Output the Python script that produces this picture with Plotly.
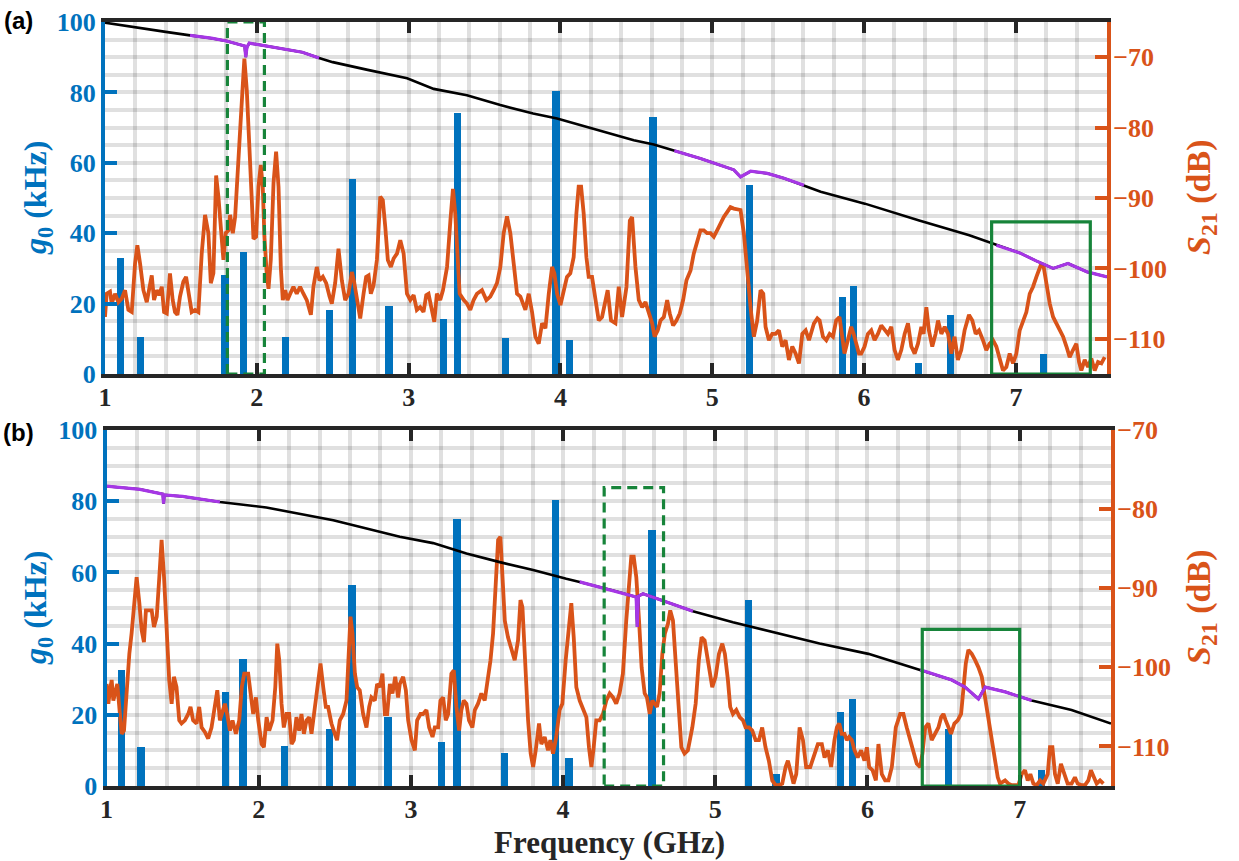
import plotly.graph_objects as go

BLUE = "#0072BD"
ORANGE = "#D95319"
PURPLE = "#A636E6"
GREEN = "#17843A"
DARK = "#262626"
GRID = "rgba(0,0,0,0.12)"
SERIF = "Liberation Serif"

# ---------------- panel (a) data ----------------
g0_a_freq = [1.10, 1.235, 1.79, 1.91, 2.19, 2.48, 2.63, 2.87, 3.23, 3.32, 3.64, 3.97, 4.06, 4.61,
             5.245, 5.86, 5.93, 6.36, 6.57, 7.18]
g0_a = [33, 10.5, 28.1, 34.6, 10.5, 18.2, 55.3, 19.3, 15.5, 74.2, 10.2, 80.5, 9.7, 72.9,
        53.6, 22, 25, 3.2, 16.8, 5.6]

s21_a_freq = [
    1.000, 1.011, 1.033, 1.044, 1.066, 1.088, 1.110, 1.132, 1.154, 1.176, 1.198, 1.213, 1.231, 1.253,
    1.275, 1.292, 1.308, 1.323, 1.341, 1.358, 1.374, 1.389, 1.407, 1.428, 1.446, 1.461, 1.477, 1.494,
    1.516, 1.534, 1.549, 1.571, 1.593, 1.615, 1.637, 1.659, 1.681, 1.697, 1.714, 1.732, 1.747, 1.765,
    1.780, 1.795, 1.813, 1.824, 1.842, 1.857, 1.872, 1.890, 1.905, 1.918, 1.934, 1.951, 1.967, 1.978,
    1.995, 2.011, 2.026, 2.039, 2.050, 2.066, 2.077, 2.092, 2.110, 2.127, 2.143, 2.158, 2.171, 2.187,
    2.202, 2.220, 2.241, 2.263, 2.285, 2.307, 2.329, 2.356, 2.373, 2.395, 2.413, 2.435, 2.457, 2.479,
    2.494, 2.516, 2.538, 2.560, 2.582, 2.604, 2.626, 2.641, 2.659, 2.681, 2.703, 2.720, 2.736, 2.751,
    2.769, 2.791, 2.813, 2.830, 2.846, 2.863, 2.883, 2.901, 2.923,
    2.945, 2.967, 2.989, 3.011, 3.033, 3.054, 3.076, 3.098, 3.116, 3.131, 3.147, 3.169, 3.186, 3.208,
    3.226, 3.253, 3.275, 3.292, 3.307, 3.323, 3.336, 3.363, 3.384, 3.406, 3.428, 3.450, 3.483, 3.512,
    3.538, 3.560, 3.582, 3.604, 3.626, 3.648, 3.670, 3.692, 3.714, 3.736, 3.769, 3.791, 3.813, 3.835,
    3.857, 3.879, 3.901, 3.923, 3.945, 3.960, 3.978, 4.000, 4.021, 4.043, 4.065, 4.087, 4.105, 4.120,
    4.136, 4.153, 4.171, 4.186, 4.208, 4.230, 4.252, 4.274, 4.296, 4.311, 4.333, 4.362, 4.384, 4.406,
    4.435, 4.457, 4.472, 4.494, 4.516, 4.538, 4.560, 4.582, 4.604, 4.620, 4.641, 4.659, 4.681, 4.703,
    4.720, 4.742, 4.764, 4.786, 4.808, 4.830, 4.857, 4.878, 4.900, 4.922, 4.944, 4.966, 4.988, 5.010,
    5.032, 5.054, 5.076, 5.098, 5.120, 5.142, 5.164, 5.186, 5.208, 5.230, 5.252, 5.274, 5.296, 5.318,
    5.336, 5.351, 5.373, 5.395, 5.417, 5.439, 5.461, 5.483, 5.505, 5.527, 5.549, 5.571, 5.593, 5.615,
    5.637, 5.670, 5.692,
    5.707, 5.729, 5.751, 5.773, 5.795, 5.816, 5.838, 5.856, 5.871, 5.893, 5.915, 5.931, 5.948, 5.966,
    5.981, 6.003, 6.025, 6.047, 6.069, 6.091, 6.113, 6.135, 6.157, 6.179, 6.201, 6.223, 6.245, 6.267,
    6.289, 6.311, 6.333, 6.355, 6.377, 6.392, 6.410, 6.427, 6.449, 6.471, 6.487, 6.509, 6.531, 6.553,
    6.574, 6.596, 6.618, 6.640, 6.662, 6.691, 6.713, 6.735, 6.757, 6.783, 6.805, 6.827, 6.849, 6.871,
    6.893, 6.915, 6.937, 6.959, 6.981, 7.003, 7.025, 7.047, 7.069, 7.091, 7.113, 7.135, 7.157, 7.168,
    7.183, 7.201, 7.223, 7.245, 7.267, 7.289, 7.311, 7.333, 7.354, 7.376, 7.398, 7.416, 7.431, 7.453,
    7.475, 7.497, 7.519, 7.541, 7.563, 7.585]
s21_a_db = [
    -106.9, -103.6, -103.3, -105.0, -103.6, -104.8, -104.3, -103.1, -105.9, -106.2, -99.3, -96.7, -99.3, -103.1,
    -104.8, -102.6, -101.0, -104.5, -103.1, -103.8, -102.6, -106.2, -106.4, -100.7, -104.5, -106.2, -106.6, -104.0,
    -101.9, -101.2, -103.1, -106.2, -105.9, -106.2, -97.9, -92.4, -95.0, -102.1, -100.7, -86.8, -89.8, -95.0,
    -98.8, -95.0, -94.6, -92.4, -95.0, -92.7, -87.9, -80.4, -74.9, -70.2, -74.7, -81.8, -90.3, -95.8,
    -95.5, -88.4, -85.3, -88.4, -95.5, -101.0, -102.9, -98.8, -87.9, -83.4, -88.4, -99.8, -104.5, -103.1,
    -104.5, -103.6, -102.6, -103.6, -102.6, -103.6, -104.5, -106.6, -102.6, -99.8, -101.7, -101.2, -102.1, -104.0,
    -105.0, -102.1, -97.2, -101.7, -104.5, -103.6, -100.5, -101.9, -104.5, -107.1, -103.6, -101.2, -101.0, -103.6,
    -102.4, -98.8, -89.8, -90.3, -94.1, -98.8, -99.8, -98.6, -97.9,
    -96.0, -97.9, -103.6, -104.5, -103.8, -105.9, -105.5, -106.2, -103.8, -103.6, -105.5, -107.6, -103.6, -104.5,
    -103.1, -99.8, -93.2, -88.7, -92.2, -99.8, -103.6, -104.5, -105.0, -105.9, -104.5, -103.6, -103.1, -104.5,
    -104.0, -103.1, -102.1, -99.8, -95.0, -92.6, -95.0, -99.3, -103.6, -104.0, -105.9, -103.6, -106.2, -109.7,
    -110.7, -107.8, -108.5, -103.6, -99.8, -100.7, -103.6, -105.2, -103.1, -101.2, -100.7, -98.4, -92.2, -88.4,
    -88.4, -92.2, -98.4, -101.2, -101.2, -104.5, -107.4, -106.9, -104.5, -103.1, -107.4, -107.8, -102.6, -106.9,
    -102.6, -93.2, -92.7, -99.8, -104.5, -105.5, -104.8, -106.4, -107.8, -109.7, -108.8, -107.4, -106.9, -104.5,
    -106.4, -108.1, -107.4, -106.4, -104.5, -101.7, -100.3, -97.9, -96.0, -94.6, -94.6, -95.0, -95.0, -95.5,
    -94.6, -93.6, -92.7, -92.0, -91.3, -91.5, -91.6, -91.7, -95.0, -100.7, -105.5, -109.7, -107.4, -103.1,
    -103.6, -108.3, -110.2, -109.3, -109.3, -108.8, -111.1, -110.2, -113.0, -111.1, -112.1, -113.5, -109.3, -108.8,
    -110.2, -107.8, -107.1,
    -107.4, -109.7, -110.2, -109.3, -109.7, -107.4, -106.9, -110.2, -112.1, -110.2, -108.3, -109.3, -110.7, -112.1,
    -112.1, -111.1, -109.3, -108.8, -110.2, -109.3, -108.1, -108.8, -109.3, -108.3, -111.6, -113.0, -111.6, -109.3,
    -107.8, -111.1, -112.1, -110.7, -108.3, -109.3, -105.5, -108.8, -111.1, -109.3, -107.4, -109.3, -108.3, -109.3,
    -112.1, -109.7, -113.0, -111.6, -108.8, -106.6, -107.4, -109.3, -108.8, -110.2, -111.6, -110.7, -110.2, -111.1,
    -113.0, -114.5, -114.0, -112.1, -113.5, -112.1, -108.8, -107.4, -106.2, -103.6, -102.6, -101.2, -99.8, -99.3,
    -99.8, -102.1, -105.0, -106.9, -107.8, -108.8, -109.7, -111.1, -112.6, -111.6, -110.7, -113.3, -114.5, -113.0,
    -114.0, -112.8, -114.5, -113.3, -113.5, -112.6]

base_a_freq = [1.00, 1.20, 1.40, 1.56, 1.70, 1.80, 1.90, 1.92, 1.927, 1.935, 1.95, 2.10, 2.30, 2.41,
               2.50, 2.73, 2.99, 3.165, 3.384, 3.604, 3.82, 3.978, 4.263, 4.483, 4.615, 4.75, 4.922,
               5.142, 5.186, 5.252, 5.362, 5.472, 5.604, 5.714, 6.005, 6.363, 6.693, 6.871, 7.025,
               7.13, 7.245, 7.343, 7.47, 7.60]
base_a_db = [-65.1, -65.8, -66.4, -66.9, -67.3, -67.7, -68.2, -68.4, -70.0, -68.6, -68.0, -68.6, -69.3, -70.1,
             -70.7, -71.8, -73.0, -74.5, -75.4, -76.8, -78.0, -78.7, -80.4, -81.8, -82.4, -83.3, -84.4,
             -86.0, -87.0, -86.2, -86.5, -87.2, -88.2, -89.1, -90.8, -93.2, -95.3, -96.7, -97.8,
             -98.9, -100.0, -99.3, -100.5, -101.2]
purple_a = [(1.56, 2.41), (4.75, 5.604), (6.871, 7.60)]

box_a_dashed = (1.806, 2.05, 0, 100)
box_a_solid = (6.84, 7.49, 0, 43.2)

# ---------------- panel (b) data ----------------
g0_b_freq = [1.093, 1.224, 1.78, 1.894, 2.167, 2.46, 2.61, 2.846, 3.20, 3.30, 3.61, 3.947, 4.035, 4.58,
             5.217, 5.396, 5.82, 5.90, 6.53, 7.14]
g0_b = [32.6, 11, 26.5, 35.6, 11.3, 15.9, 56.5, 19.5, 12.4, 75, 9.4, 80.3, 8, 72,
        52.2, 3.4, 20.7, 24.4, 15.9, 4.5]

s21_b_freq = [
    1.001, 1.012, 1.023, 1.034, 1.045, 1.056, 1.071, 1.088, 1.100, 1.115, 1.133, 1.150, 1.165, 1.181,
    1.198, 1.216, 1.231, 1.246, 1.259, 1.275, 1.297, 1.312, 1.330, 1.347, 1.362, 1.378, 1.395, 1.412,
    1.428, 1.443, 1.460, 1.478, 1.493, 1.515, 1.537, 1.552, 1.569, 1.592, 1.609, 1.625, 1.647, 1.668,
    1.690, 1.712, 1.728, 1.745, 1.763, 1.778, 1.793, 1.811, 1.828, 1.850, 1.872, 1.889, 1.905, 1.931,
    1.947, 1.964, 1.982, 1.997, 2.019, 2.034, 2.052, 2.069, 2.091, 2.109, 2.122, 2.135, 2.150, 2.165,
    2.183, 2.200, 2.216, 2.231, 2.248, 2.266, 2.281, 2.297, 2.314, 2.332, 2.347, 2.369, 2.391, 2.406,
    2.424, 2.441, 2.456, 2.478, 2.500, 2.515, 2.533, 2.555, 2.577, 2.588, 2.603, 2.616, 2.632, 2.647,
    2.664, 2.686, 2.708, 2.726, 2.741, 2.763, 2.778, 2.796, 2.813, 2.829, 2.844, 2.862, 2.879, 2.897,
    2.916,
    2.927, 2.949, 2.967, 2.982, 3.004, 3.026, 3.041, 3.063, 3.080, 3.102, 3.120, 3.142, 3.157, 3.179,
    3.194, 3.212, 3.229, 3.245, 3.266, 3.282, 3.299, 3.317, 3.332, 3.347, 3.365, 3.382, 3.404, 3.420,
    3.441, 3.463, 3.485, 3.507, 3.523, 3.540, 3.558, 3.573, 3.588, 3.601, 3.617, 3.638, 3.660, 3.682,
    3.704, 3.720, 3.733, 3.748, 3.770, 3.787, 3.803, 3.820, 3.842, 3.857, 3.879, 3.901, 3.916, 3.934,
    3.955, 3.977, 3.995, 4.017, 4.039, 4.054, 4.070, 4.087, 4.109, 4.131, 4.153, 4.170, 4.186, 4.201,
    4.218, 4.240, 4.262, 4.284, 4.306, 4.328, 4.349, 4.371, 4.393, 4.415, 4.433, 4.448, 4.464, 4.481,
    4.499, 4.516, 4.536, 4.551, 4.569, 4.586, 4.602, 4.617, 4.634, 4.652, 4.669, 4.689, 4.704, 4.722,
    4.739, 4.757, 4.777, 4.798, 4.820, 4.849, 4.871, 4.892, 4.910, 4.930, 4.945, 4.963, 4.980, 5.002,
    5.024, 5.046, 5.063, 5.083, 5.098, 5.116, 5.138, 5.160, 5.182, 5.199, 5.221, 5.243, 5.265, 5.287,
    5.308, 5.330, 5.352, 5.374, 5.396, 5.418, 5.440, 5.462, 5.477, 5.499, 5.514, 5.532, 5.554, 5.576,
    5.597, 5.624, 5.652, 5.674,
    5.700, 5.718, 5.740, 5.761, 5.783, 5.799, 5.814, 5.831, 5.849, 5.864, 5.879, 5.897, 5.915, 5.936,
    5.958, 5.980, 5.996, 6.011, 6.033, 6.055, 6.072, 6.094, 6.116, 6.138, 6.160, 6.186, 6.215, 6.236,
    6.258, 6.280, 6.302, 6.324, 6.346, 6.361, 6.379, 6.400, 6.422, 6.444, 6.466, 6.484, 6.499, 6.514,
    6.532, 6.549, 6.571, 6.593, 6.615, 6.630, 6.646, 6.663, 6.685, 6.707, 6.729, 6.751, 6.773, 6.795,
    6.817, 6.838, 6.856, 6.871, 6.904, 6.926, 6.948, 6.991, 7.013, 7.035, 7.053, 7.070, 7.090, 7.112,
    7.134, 7.155, 7.184, 7.199, 7.215, 7.232, 7.250, 7.271, 7.293, 7.315, 7.341, 7.363, 7.381, 7.407,
    7.429, 7.451, 7.468, 7.486, 7.506, 7.528, 7.550]
s21_b_db = [
    -102.1, -104.6, -102.9, -101.6, -104.2, -103.3, -102.1, -105.9, -108.4, -108.0, -102.1, -98.3, -95.7, -91.5,
    -88.6, -91.9, -95.3, -96.8, -92.8, -92.8, -92.8, -94.9, -93.6, -88.6, -83.9, -88.6, -96.2, -101.6,
    -104.6, -101.2, -102.5, -106.7, -107.1, -106.7, -105.9, -105.0, -106.7, -107.1, -105.0, -107.6, -108.2, -109.0,
    -107.6, -105.0, -102.9, -106.7, -105.4, -104.6, -105.9, -108.0, -106.7, -108.4, -106.7, -102.5, -100.8, -100.8,
    -103.3, -105.9, -103.8, -106.7, -109.7, -110.1, -106.3, -108.0, -106.7, -102.5, -97.0, -99.1, -104.6, -107.6,
    -105.9, -105.9, -109.7, -109.2, -106.3, -108.0, -105.9, -108.4, -106.7, -106.3, -108.4, -105.4, -101.6, -99.5,
    -102.5, -105.0, -105.0, -107.1, -108.4, -109.2, -106.7, -105.9, -104.2, -99.1, -93.6, -95.7, -100.8, -102.5,
    -102.9, -105.9, -107.6, -105.0, -103.8, -104.2, -102.1, -102.5, -100.8, -105.9, -105.9, -102.1, -103.3, -101.2,
    -103.8,
    -102.1, -101.2, -102.9, -106.7, -109.2, -110.5, -106.7, -105.9, -105.9, -105.4, -107.6, -108.8, -107.6, -107.6,
    -104.2, -103.8, -106.7, -105.9, -100.8, -100.4, -105.0, -108.0, -105.4, -104.2, -104.6, -106.7, -107.6, -105.4,
    -104.6, -103.3, -104.2, -101.2, -99.1, -95.7, -89.8, -83.9, -83.5, -87.7, -94.1, -96.2, -97.8, -99.1,
    -96.6, -91.5, -92.4, -98.3, -106.7, -110.9, -112.6, -110.5, -107.1, -109.7, -108.8, -110.5, -109.2, -110.9,
    -108.8, -105.4, -104.6, -99.1, -94.9, -91.9, -96.2, -102.5, -104.2, -105.4, -106.3, -110.1, -112.6, -110.1,
    -106.7, -106.7, -105.9, -104.2, -103.3, -103.8, -104.6, -103.3, -100.8, -94.1, -89.0, -86.0, -86.0, -88.6,
    -94.1, -100.0, -103.3, -103.8, -105.9, -104.2, -104.6, -105.0, -103.3, -98.3, -95.7, -94.5, -92.8, -94.1,
    -99.1, -105.0, -110.1, -110.9, -110.5, -107.6, -104.6, -99.1, -96.2, -96.6, -98.3, -100.8, -102.5, -101.2,
    -98.3, -97.0, -98.3, -101.6, -105.0, -105.9, -105.4, -106.3, -106.7, -107.6, -107.6, -108.0, -109.2, -109.2,
    -107.6, -110.1, -111.8, -114.3, -114.9, -114.9, -114.7, -112.6, -111.8, -113.5, -114.7, -113.5, -107.6, -109.2,
    -112.6, -112.6, -110.9, -109.7,
    -109.7, -111.4, -110.5, -112.6, -109.2, -107.6, -107.1, -108.4, -108.4, -109.2, -108.8, -109.2, -110.5, -111.4,
    -110.5, -111.8, -110.1, -112.6, -113.0, -114.3, -109.7, -113.5, -114.3, -114.3, -112.6, -107.6, -105.9, -105.9,
    -107.6, -109.2, -110.9, -112.2, -112.6, -110.9, -107.6, -107.1, -109.2, -108.4, -107.6, -106.3, -105.9, -106.7,
    -107.6, -108.4, -107.1, -106.7, -105.9, -102.5, -99.5, -97.8, -98.3, -99.1, -100.0, -101.2, -103.8, -106.7,
    -109.2, -111.8, -113.9, -114.7, -114.3, -114.7, -114.9, -114.9, -113.5, -113.0, -114.3, -113.5, -114.7, -114.9,
    -114.3, -114.7, -113.5, -110.1, -110.1, -113.5, -114.7, -112.2, -113.5, -114.7, -114.7, -113.9, -114.7, -114.9,
    -114.9, -114.3, -113.0, -113.9, -114.7, -114.3, -114.7]

base_b_freq = [1.00, 1.22, 1.37, 1.375, 1.38, 1.50, 1.745, 2.05, 2.49, 2.927, 3.146, 3.365, 3.584, 3.803,
               4.021, 4.109, 4.328, 4.437, 4.48, 4.487, 4.495, 4.525, 4.678, 4.853, 5.116, 5.334, 5.685,
               6.006, 6.346, 6.554, 6.641, 6.729, 6.773, 6.904, 7.079, 7.341, 7.60]
base_b_db = [-77.1, -77.5, -78.1, -79.3, -78.2, -78.4, -79.1, -79.8, -81.4, -83.5, -84.3, -85.6, -86.7, -87.7,
             -88.8, -89.2, -90.3, -90.9, -91.1, -94.9, -91.0, -90.7, -91.7, -92.9, -94.3, -95.3, -97.0,
             -98.3, -100.3, -101.6, -102.5, -104.0, -102.5, -103.1, -104.2, -105.4, -107.1]
purple_b = [(1.00, 1.745), (4.109, 4.853), (6.346, 7.079)]

box_b_dashed = (4.27, 4.66, 0, 83.8)
box_b_solid = (6.36, 7.00, 0, 44.0)

freq_ticks = [1, 2, 3, 4, 5, 6, 7]
g0_ticks = [0, 20, 40, 60, 80, 100]
s21_ticks = [-110, -100, -90, -80, -70]

W, H = 1239, 861


def px_x(p):
    return p / W


def px_y(p):
    return 1 - p / H


fig = go.Figure()


def add_panel(xa, ya, ya2, bf, bv, sf, sv, basef, basev, purple):
    fig.add_trace(go.Bar(x=bf, y=bv, width=0.048, marker=dict(color=BLUE, line=dict(width=0)),
                         xaxis=xa, yaxis=ya, showlegend=False))
    fig.add_trace(go.Scatter(x=sf, y=sv, mode="lines", line=dict(color=ORANGE, width=3.8),
                             xaxis=xa, yaxis=ya2, showlegend=False))
    fig.add_trace(go.Scatter(x=basef, y=basev, mode="lines", line=dict(color="black", width=2.6),
                             xaxis=xa, yaxis=ya2, showlegend=False))
    for lo, hi in purple:
        px = [f for f in basef if lo <= f <= hi]
        pv = [v for f, v in zip(basef, basev) if lo <= f <= hi]
        fig.add_trace(go.Scatter(x=px, y=pv, mode="lines", line=dict(color=PURPLE, width=3.2),
                                 xaxis=xa, yaxis=ya2, showlegend=False))


add_panel("x", "y", "y2", g0_a_freq, g0_a, s21_a_freq, s21_a_db, base_a_freq, base_a_db, purple_a)
add_panel("x2", "y3", "y4", g0_b_freq, g0_b, s21_b_freq, s21_b_db, base_b_freq, base_b_db, purple_b)

TICK_SIZE = 26


def xaxis_cfg(domain, anchor):
    return dict(domain=domain, anchor=anchor, range=[1, 7.6], tickvals=freq_ticks,
                showline=True, linecolor=DARK, linewidth=4, mirror="ticks",
                ticks="inside", ticklen=11, tickwidth=4, tickcolor=DARK,
                tickfont=dict(family=SERIF, size=TICK_SIZE, color=DARK, weight="bold"),
                showgrid=False,
                minor=dict(tick0=1, dtick=0.2, showgrid=True, gridcolor=GRID, gridwidth=3.5),
                zeroline=False, automargin=False, ticklabelstandoff=-3)


def yleft_cfg(domain, anchor):
    return dict(domain=domain, anchor=anchor, range=[0, 100], tickvals=g0_ticks,
                showline=True, linecolor=BLUE, linewidth=4,
                ticks="inside", ticklen=12, tickwidth=4, tickcolor=BLUE,
                tickfont=dict(family=SERIF, size=TICK_SIZE, color=BLUE, weight="bold"),
                showgrid=False,
                minor=dict(dtick=5, tick0=0, showgrid=True, gridcolor=GRID, gridwidth=3.5),
                zeroline=False, automargin=False)


def yright_cfg(over, anchor, rng):
    return dict(overlaying=over, anchor=anchor, side="right", range=rng, tickvals=s21_ticks,
                showline=True, linecolor=ORANGE, linewidth=4,
                ticks="inside", ticklen=12, tickwidth=4, tickcolor=ORANGE,
                tickfont=dict(family=SERIF, size=TICK_SIZE, color=ORANGE, weight="bold"),
                showgrid=False, zeroline=False, automargin=False, ticklabelstandoff=-3)


dom_xa = [px_x(105), px_x(1107)]
dom_xb = [px_x(106.5), px_x(1111)]
dom_ya = [px_y(374), px_y(22)]
dom_yb = [px_y(786), px_y(430)]

shapes = []
for (x0, x1, y0, y1), xr, yr, dash in [
    (box_a_dashed, "x", "y", "10px,6px"),
    (box_a_solid, "x", "y", "solid"),
    (box_b_dashed, "x2", "y3", "10px,6px"),
    (box_b_solid, "x2", "y3", "solid"),
]:
    shapes.append(dict(type="rect", xref=xr, yref=yr, x0=x0, x1=x1, y0=y0, y1=y1,
                       line=dict(color=GREEN, width=3.2, dash=dash), layer="above"))

annotations = []
for ymid in [(22 + 374) / 2, (430 + 786) / 2]:
    annotations.append(dict(xref="paper", yref="paper", x=px_x(37), y=px_y(ymid),
                            text="<i>g</i><sub>0</sub> (kHz)", textangle=-90, showarrow=False,
                            font=dict(family=SERIF, size=32, weight="bold", color=BLUE),
                            xanchor="center", yanchor="middle"))
    annotations.append(dict(xref="paper", yref="paper", x=px_x(1201), y=px_y(ymid),
                            text="<i>S</i><sub>21</sub> (dB)", textangle=-90, showarrow=False,
                            font=dict(family=SERIF, size=34, weight="bold", color=ORANGE),
                            xanchor="center", yanchor="middle"))
annotations.append(dict(xref="paper", yref="paper", x=px_x(609), y=px_y(842),
                        text="Frequency (GHz)", showarrow=False,
                        font=dict(family=SERIF, size=31, color=DARK, weight="bold"),
                        xanchor="center", yanchor="middle"))
for lbl, yy in [("(a)", 20), ("(b)", 432)]:
    annotations.append(dict(xref="paper", yref="paper", x=px_x(18), y=px_y(yy), text=lbl,
                            showarrow=False, xanchor="center", yanchor="middle",
                            font=dict(family="Liberation Sans", size=24, color="black", weight="bold")))

fig.update_layout(
    width=W, height=H, margin=dict(l=0, r=0, t=0, b=0, autoexpand=False),
    paper_bgcolor="white", plot_bgcolor="white", showlegend=False,
    bargap=0, barmode="overlay",
    xaxis=xaxis_cfg(dom_xa, "y"),
    yaxis=yleft_cfg(dom_ya, "x"),
    yaxis2=yright_cfg("y", "x", [-115, -65]),
    xaxis2=xaxis_cfg(dom_xb, "y3"),
    yaxis3=yleft_cfg(dom_yb, "x2"),
    yaxis4=yright_cfg("y3", "x2", [-115, -70]),
    shapes=shapes, annotations=annotations,
)

fig.write_html("out.html")
